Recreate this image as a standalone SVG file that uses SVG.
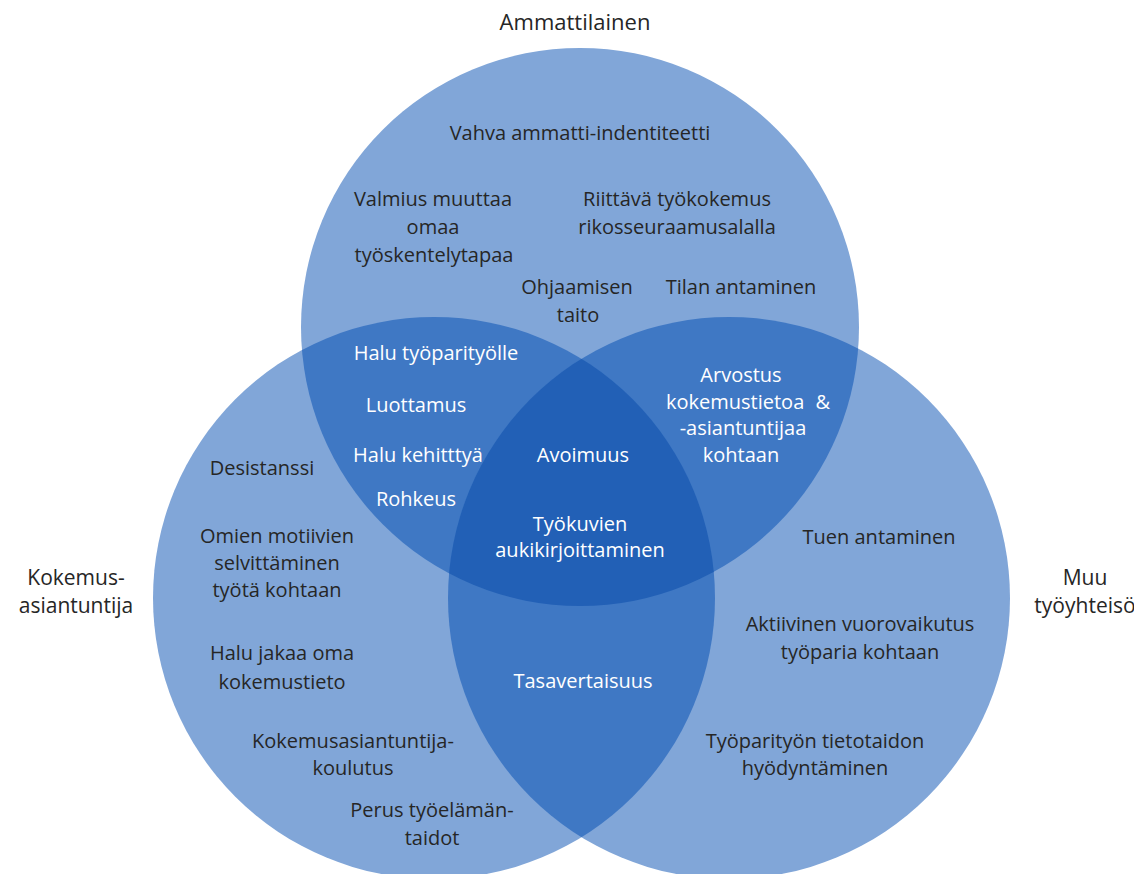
<svg xmlns="http://www.w3.org/2000/svg" width="1134" height="874" viewBox="0 0 1134 874">
<style>
.s{fill:#81a6d8}
.d{fill:#3f78c4}
.t{fill:#2260b6}
text{font-family:"Open Sans","Noto Sans","Liberation Sans",sans-serif;font-size:20px;text-anchor:middle}
.h{font-size:21px}
.k{fill:#262626}
.w{fill:#ffffff}
</style>
<defs>
<clipPath id="cA"><circle cx="580" cy="327" r="279"/></clipPath>
<clipPath id="cL"><circle cx="434" cy="598" r="281"/></clipPath>
<clipPath id="cR"><circle cx="729" cy="598" r="281"/></clipPath>
</defs>
<rect width="1134" height="874" fill="#ffffff"/>
<g id="sets">
<circle id="set-ammattilainen" class="s" cx="580" cy="327" r="279"/>
<circle id="set-kokemus" class="s" cx="434" cy="598" r="281"/>
<circle id="set-muu" class="s" cx="729" cy="598" r="281"/>
<circle class="d" cx="434" cy="598" r="281" clip-path="url(#cA)"/>
<circle class="d" cx="729" cy="598" r="281" clip-path="url(#cA)"/>
<circle class="d" cx="729" cy="598" r="281" clip-path="url(#cL)"/>
<g clip-path="url(#cL)"><circle class="t" cx="729" cy="598" r="281" clip-path="url(#cA)"/></g>
</g>
<g id="titles">
<text class="k h" x="575" y="30" style="font-size:22px">Ammattilainen</text>
<text class="k h" x="76" y="585">Kokemus-</text>
<text class="k h" x="76" y="613">asiantuntija</text>
<text class="k h" x="1085" y="585">Muu</text>
<text class="k h" x="1085" y="613">työyhteisö</text>
</g>
<g id="ammattilainen-only">
<text class="k" x="580" y="140">Vahva ammatti-indentiteetti</text>
<text class="k" x="433" y="206">Valmius muuttaa</text>
<text class="k" x="433" y="234">omaa</text>
<text class="k" x="434" y="262">työskentelytapaa</text>
<text class="k" x="677" y="206">Riittävä työkokemus</text>
<text class="k" x="677" y="234">rikosseuraamusalalla</text>
<text class="k" x="577" y="294">Ohjaamisen</text>
<text class="k" x="578" y="322">taito</text>
<text class="k" x="741" y="294">Tilan antaminen</text>
</g>
<g id="ammattilainen-kokemus">
<text class="w" x="436" y="360">Halu työparityölle</text>
<text class="w" x="416" y="412">Luottamus</text>
<text class="w" x="418" y="462">Halu kehitttyä</text>
<text class="w" x="416" y="506">Rohkeus</text>
</g>
<g id="kaikki">
<text class="w" x="583" y="462">Avoimuus</text>
<text class="w" x="580" y="531">Työkuvien</text>
<text class="w" x="580" y="557">aukikirjoittaminen</text>
</g>
<g id="ammattilainen-muu">
<text class="w" x="741" y="382">Arvostus</text>
<text class="w" x="748" y="409">kokemustietoa <tspan dx="6">&amp;</tspan></text>
<text class="w" x="743" y="435">-asiantuntijaa</text>
<text class="w" x="741" y="462">kohtaan</text>
</g>
<g id="kokemus-only">
<text class="k" x="262" y="475">Desistanssi</text>
<text class="k" x="277" y="543">Omien motiivien</text>
<text class="k" x="277" y="570">selvittäminen</text>
<text class="k" x="277" y="597">työtä kohtaan</text>
<text class="k" x="282" y="660">Halu jakaa oma</text>
<text class="k" x="282" y="689">kokemustieto</text>
<text class="k" x="353" y="748">Kokemusasiantuntija-</text>
<text class="k" x="353" y="775">koulutus</text>
<text class="k" x="432" y="817">Perus työelämän-</text>
<text class="k" x="432" y="845">taidot</text>
</g>
<g id="kokemus-muu">
<text class="w" x="583" y="688">Tasavertaisuus</text>
</g>
<g id="muu-only">
<text class="k" x="879" y="544">Tuen antaminen</text>
<text class="k" x="860" y="631">Aktiivinen vuorovaikutus</text>
<text class="k" x="860" y="659">työparia kohtaan</text>
<text class="k" x="815" y="748">Työparityön tietotaidon</text>
<text class="k" x="815" y="775">hyödyntäminen</text>
</g>
</svg>
